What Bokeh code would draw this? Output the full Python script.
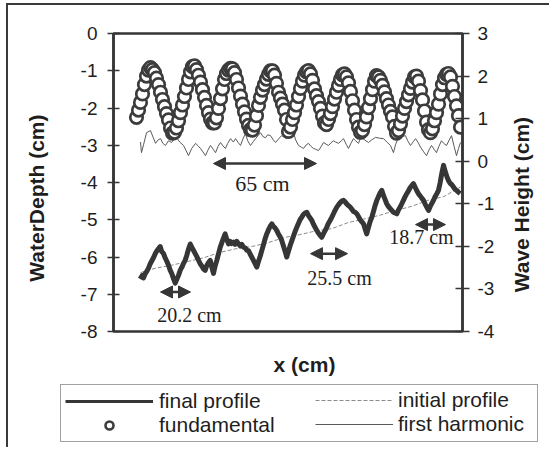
import math
from bokeh.plotting import figure
from bokeh.layouts import column
from bokeh.models import (Range1d, LinearAxis, FixedTicker, Legend, LegendItem,
                          Label, Arrow, NormalHead)
from bokeh.embed import file_html
from bokeh.resources import INLINE

# ---------------- data ----------------
# fundamental wave height (cm), right axis, sampled every 1.25 cm from x = 0
FUND_Y = [
    1.03, 1.20, 1.38, 1.58, 1.80, 2.00, 2.14, 2.20,
    2.15, 2.08, 1.95, 1.80, 1.62, 1.45, 1.28, 1.12, 0.97, 0.78, 0.66,
    0.68, 0.78, 0.95, 1.14, 1.32, 1.52, 1.72, 1.92, 2.10, 2.22, 2.24,
    2.15, 2.02, 1.86, 1.68, 1.50, 1.31, 1.14, 0.99, 0.90, 0.90,
    1.02, 1.24, 1.47, 1.70, 1.92, 2.06, 2.14, 2.18, 2.17,
    2.08, 1.92, 1.72, 1.53, 1.34, 1.16, 0.99, 0.84, 0.74, 0.73,
    0.85, 1.07, 1.31, 1.50, 1.67, 1.80, 1.93, 2.04, 2.12, 2.12,
    2.02, 1.83, 1.62, 1.48, 1.34, 1.20, 0.98, 0.70,
    0.80, 0.98, 1.14, 1.32, 1.52, 1.71, 1.88, 2.02, 2.10, 2.13,
    2.05, 1.90, 1.70, 1.54, 1.40, 1.24, 1.06, 0.90, 0.86,
    0.98, 1.12, 1.28, 1.46, 1.62, 1.78, 1.92, 2.03, 2.05,
    1.98, 1.84, 1.64, 1.42, 1.20, 0.98, 0.80, 0.68,
    0.72, 0.86, 1.04, 1.26, 1.47, 1.68, 1.88, 2.01,
    1.98, 1.90, 1.78, 1.63, 1.47, 1.32, 1.17, 1.04, 0.82, 0.66,
    0.72, 0.88, 1.06, 1.24, 1.40, 1.56, 1.71, 1.86, 1.98, 2.00,
    1.88, 1.66, 1.44, 1.18, 0.92, 0.74, 0.67,
    0.76, 0.95, 1.14, 1.34, 1.58, 1.80, 1.96, 2.04, 2.06,
    1.98, 1.76, 1.52, 1.30, 1.07, 0.80,
]
FUND_X = [round(i * 1.25, 2) for i in range(len(FUND_Y))]

# first harmonic (cm), right axis
HARM_X = [2.5, 3.1, 4.5, 6.25, 8.75, 10.5, 11.9, 13.5, 15, 16.5,
          18.1, 20, 21.9, 23.5, 25, 27, 29.4, 31, 32.5, 34.5,
          36.9, 38.5, 40, 41.5, 43.1, 44.5, 46.25, 48, 49.4, 51,
          52.5, 54, 55.6, 57, 58.75, 60.5, 61.9, 63.5, 65, 66.5,
          68.1, 69.5, 71.25, 73, 74.4, 76, 77.5, 79, 80.6, 82,
          83.75, 85.5, 86.9, 88.75, 90.6, 92, 93.75, 96, 98.1, 99.5,
          101.25, 103, 104.4, 106, 107.5, 109, 110.6, 112, 113.75, 115.5,
          116.9, 118.5, 120, 121.5, 123.1, 124.5, 126.25, 128, 129.4, 131,
          132.5, 134, 135.6, 137, 138.75, 140.6, 142.5, 145, 147, 149.4,
          152, 154.4, 156.5, 158.75, 160.6, 162, 163.75, 166, 168.1, 169.5,
          171.25, 173, 174.4, 176, 177.5, 179.5, 181.25, 183, 184.4, 186,
          187.5, 189, 190.6, 192, 193.75, 195.5, 196.9, 198.5, 200, 201.25,
          202.5]
HARM_Y = [0.45, 0.20, 0.40, 0.67, 0.72, 0.55, 0.42, 0.50, 0.53, 0.42,
          0.37, 0.48, 0.44, 0.52, 0.56, 0.45, 0.37, 0.25, 0.13, 0.30,
          0.42, 0.36, 0.30, 0.22, 0.13, 0.25, 0.37, 0.28, 0.20, 0.35,
          0.44, 0.36, 0.30, 0.42, 0.53, 0.45, 0.53, 0.44, 0.37, 0.52,
          0.65, 0.48, 0.37, 0.46, 0.53, 0.60, 0.67, 0.58, 0.55, 0.62,
          0.60, 0.50, 0.44, 0.52, 0.60, 0.57, 0.53, 0.60, 0.67, 0.50,
          0.37, 0.33, 0.30, 0.38, 0.42, 0.35, 0.30, 0.28, 0.25, 0.35,
          0.44, 0.40, 0.37, 0.43, 0.48, 0.45, 0.42, 0.48, 0.53, 0.40,
          0.30, 0.42, 0.53, 0.48, 0.42, 0.60, 0.50, 0.44, 0.50, 0.56,
          0.54, 0.53, 0.45, 0.37, 0.20, 0.40, 0.56, 0.58, 0.60, 0.48,
          0.37, 0.46, 0.53, 0.44, 0.33, 0.22, 0.13, 0.28, 0.37, 0.28,
          0.20, 0.35, 0.48, 0.42, 0.37, 0.50, 0.60, 0.35, 0.13, 0.30,
          0.44]

# final bed profile, water depth (cm), left axis
FINAL_X = [2.3, 3.5, 4.4, 5.4, 6.5, 7.5, 8.6, 9.6, 10.6, 11.7,
           12.7, 13.7, 14.8, 15.8, 16.8, 17.9, 19, 20, 21.1, 22.1,
           23.1, 24.2, 25.2, 26.2, 27.3, 28.3, 29.3, 30.4, 31.4, 32.4,
           33.6, 34.6, 35.6, 36.7, 37.7, 38.7, 39.8, 40.8, 41.8, 42.9,
           44, 45, 46.1, 47.1, 48.1, 49.1, 50.2, 51.2, 52.3, 53.3,
           54.3, 55.4, 56.4, 57.5, 58.5, 59.5, 60.6, 61.6, 62.7, 63.75,
           64.8, 65.8, 66.9, 68, 69, 70, 71, 72, 73.1, 74.1,
           75.2, 76.2, 77.3, 78.3, 79.3, 80.3, 81.4, 82.4, 83.5, 84.6,
           85.6, 86.6, 87.7, 88.7, 89.8, 90.8, 91.8, 92.9, 93.9, 95,
           96, 97.1, 98.1, 99.1, 100.2, 101.2, 102.2, 103.3, 104.3, 105.3,
           106.4, 107.4, 108.5, 109.6, 110.6, 111.6, 112.7, 113.7, 114.7, 115.8,
           116.8, 117.8, 118.9, 119.9, 121, 122.1, 123.1, 124.1, 125.2, 126.2,
           127.3, 128.3, 129.4, 130.4, 131.5, 132.5, 133.6, 134.6, 135.6, 136.7,
           137.7, 138.8, 139.8, 140.9, 141.9, 142.9, 143.9, 145, 146, 147.1,
           148.1, 149.1, 150.2, 151.2, 152.3, 153.3, 154.3, 155.4, 156.4, 157.4,
           158.5, 159.6, 160.6, 161.6, 162.7, 163.7, 164.8, 165.8, 166.8, 167.9,
           168.9, 170, 171, 172.1, 173.1, 174.1, 175.2, 176.25, 177.3, 178.3,
           179.4, 180.4, 181.4, 182.5, 183.5, 184.6, 185.6, 186.6, 187.7, 188.75,
           189.8, 190.8, 191.9, 192.9, 194, 195, 196, 197.1, 198.1, 199.1,
           200.2, 201.2, 202.3]
FINAL_Y = [-6.59, -6.50, -6.56, -6.45, -6.38, -6.30, -6.18, -6.10, -6.02, -5.91,
           -5.84, -5.78, -5.72, -5.86, -5.90, -6.02, -6.12, -6.22, -6.36, -6.45,
           -6.58, -6.70, -6.60, -6.50, -6.36, -6.28, -6.18, -6.09, -5.96, -5.80,
           -5.65, -5.74, -5.82, -5.91, -5.99, -6.08, -6.18, -6.24, -6.32, -6.36,
           -6.22, -6.15, -6.09, -6.28, -6.44, -6.25, -6.09, -5.92, -5.74, -5.62,
           -5.50, -5.38, -5.52, -5.65, -5.58, -5.64, -5.60, -5.66, -5.58, -5.65,
           -5.70, -5.66, -5.74, -5.76, -5.82, -5.83, -5.92, -6.00, -6.09, -6.18,
           -6.27, -6.12, -5.98, -5.83, -5.68, -5.52, -5.38, -5.28, -5.18, -5.11,
           -5.18, -5.22, -5.29, -5.38, -5.46, -5.56, -5.70, -5.85, -6.00, -5.84,
           -5.70, -5.56, -5.44, -5.32, -5.20, -5.10, -5.00, -4.93, -4.86, -4.82,
           -4.80, -4.88, -4.95, -5.02, -5.12, -5.20, -5.29, -5.36, -5.42, -5.47,
           -5.38, -5.30, -5.20, -5.10, -5.02, -4.93, -4.84, -4.75, -4.66, -4.60,
           -4.54, -4.50, -4.48, -4.52, -4.58, -4.62, -4.66, -4.72, -4.78, -4.80,
           -4.84, -4.92, -5.00, -5.06, -5.11, -5.25, -5.38, -5.20, -5.05, -4.93,
           -4.78, -4.62, -4.48, -4.38, -4.28, -4.21, -4.34, -4.46, -4.57, -4.64,
           -4.70, -4.75, -4.80, -4.82, -4.84, -4.74, -4.66, -4.57, -4.48, -4.38,
           -4.30, -4.22, -4.14, -4.08, -4.03, -4.12, -4.22, -4.30, -4.36, -4.42,
           -4.48, -4.58, -4.66, -4.75, -4.65, -4.56, -4.48, -4.38, -4.30, -4.21,
           -4.00, -3.76, -3.54, -3.70, -3.84, -3.95, -4.02, -4.06, -4.12, -4.18,
           -4.22, -4.26, -4.30]

# initial bed profile, water depth (cm), left axis
INIT_X = [2.5, 12, 22, 32, 42, 52, 62, 72, 82, 92, 102,
          112, 122, 132, 142, 152, 162, 172, 182, 192, 202.5]
INIT_Y = [-6.42, -6.30, -6.22, -6.12, -6.02, -5.88, -5.78, -5.72, -5.62, -5.48, -5.40,
          -5.30, -5.24, -5.08, -4.98, -4.88, -4.75, -4.64, -4.48, -4.38, -4.12]

LEFT_TICKS = [-8, -7, -6, -5, -4, -3, -2, -1, 0]
RIGHT_TICKS = [-4, -3, -2, -1, 0, 1, 2, 3]

# length annotations: (x_start, x_end, y_arrow, text, x_text, y_text)
SPANS = [
    (48.1, 112.5, -3.49, "65 cm", 78.75, -4.04),
    (15.0, 33.75, -6.94, "20.2 cm", 33.1, -7.57),
    (108.75, 131.9, -5.91, "25.5 cm", 126.9, -6.56),
    (174.4, 193.1, -5.13, "18.7 cm", 178.1, -5.45),
]

INK = "#363636"
TXT = "#1e1e1e"

p = figure(width=549, height=380, output_backend="svg", toolbar_location=None,
           x_range=Range1d(-14.375, 203.75), y_range=Range1d(-8, 0),
           x_axis_location=None, y_axis_location="left",
           min_border_left=113, min_border_right=87, min_border_top=33,
           min_border_bottom=49)
p.frame_align = False
p.grid.visible = False
p.outline_line_color = INK
p.outline_line_width = 2.5
p.background_fill_color = "white"
p.border_fill_alpha = 0

p.extra_y_ranges = {"wave": Range1d(-4, 3)}
left_axis = p.yaxis[0]
left_axis.ticker = FixedTicker(ticks=LEFT_TICKS)
left_axis.major_label_overrides = {t: str(t) for t in LEFT_TICKS}
right_axis = LinearAxis(y_range_name="wave", ticker=FixedTicker(ticks=RIGHT_TICKS),
                        major_label_overrides={t: str(t) for t in RIGHT_TICKS})
p.add_layout(right_axis, "right")

for ax, standoff, tin, tout in ((left_axis, 10, 6, 6), (right_axis, 8, 7, 7)):
    ax.axis_line_color = INK
    ax.axis_line_width = 2.5
    ax.major_tick_line_color = INK
    ax.major_tick_line_width = 1.5
    ax.major_tick_in = tin
    ax.major_tick_out = tout
    ax.minor_tick_line_color = None
    ax.major_label_text_font = "Liberation Sans"
    ax.major_label_text_font_size = "19px"
    ax.major_label_text_color = TXT
    ax.major_label_standoff = standoff


def title_axis(text, pos, orient, standoff, size, range_name=None):
    kw = {"y_range_name": range_name} if range_name else {}
    ax = LinearAxis(ticker=FixedTicker(ticks=[pos]), major_label_overrides={pos: text},
                    major_label_orientation=orient, major_label_standoff=standoff,
                    major_label_text_font="Liberation Sans",
                    major_label_text_font_style="bold",
                    major_label_text_font_size=size, major_label_text_color=TXT,
                    axis_line_color=None, major_tick_line_color=None,
                    minor_tick_line_color=None, major_tick_in=0, major_tick_out=0,
                    **kw)
    return ax


p.add_layout(title_axis("WaterDepth (cm)", -4.42, "vertical", 29, "21px"), "left")
p.add_layout(title_axis("Wave Height (cm)", -3.08, math.pi / 2, 24, "21px", "wave"), "right")
p.add_layout(title_axis("x (cm)", 105, "horizontal", 21, "21px"), "below")

# glyphs
p.line(HARM_X, HARM_Y, y_range_name="wave", line_color="#5a5a5a", line_width=1)
p.line(INIT_X, INIT_Y, line_color="#8a8a8a", line_width=1, line_dash="4 2")
p.line(FINAL_X, FINAL_Y, line_color=INK, line_width=5, line_join="round")
p.scatter(FUND_X, FUND_Y, y_range_name="wave", marker="circle", size=12.5,
          fill_color="white", line_color="#3c3c3c", line_width=2.7)

# annotations
for x0, x1, ya, txt, xt, yt in SPANS:
    p.add_layout(Arrow(
        start=NormalHead(size=12, fill_color=INK, line_color=INK),
        end=NormalHead(size=12, fill_color=INK, line_color=INK),
        x_start=x0, y_start=ya, x_end=x1, y_end=ya,
        line_color=INK, line_width=2.5))
    p.add_layout(Label(x=xt, y=yt, text=txt, text_font="Liberation Serif",
                       text_font_size="22px" if txt == "65 cm" else "20px",
                       text_color=TXT, text_align="center", text_baseline="middle"))

# ---------------- legend strip ----------------
# the legend's own plot shows a window far away from the data, so its
# stand-in renderers carry the same data but stay out of sight
q = figure(width=549, height=67, output_backend="svg", toolbar_location=None,
           x_range=Range1d(1000, 1001), y_range=Range1d(1000, 1001),
           x_axis_location=None, y_axis_location=None, min_border=0)
q.frame_align = False
q.grid.visible = False
q.outline_line_color = None
q.background_fill_alpha = 0
q.border_fill_alpha = 0

r_final = q.line(FINAL_X, FINAL_Y, line_color=INK, line_width=3)
r_fund = q.scatter(FUND_X, FUND_Y, marker="circle", size=12, fill_color="white",
                   line_color="#3c3c3c", line_width=2.6)
r_init = q.line(INIT_X, INIT_Y, line_color="#8a8a8a", line_width=1, line_dash="4 2")
r_harm = q.line(HARM_X, HARM_Y, line_color="#5a5a5a", line_width=1)


def style_legend(lg):
    lg.label_text_font = "Liberation Sans"
    lg.label_text_font_size = "21px"
    lg.label_text_color = TXT
    lg.glyph_height = 20
    lg.label_height = 24
    lg.padding = 4
    lg.spacing = 0
    lg.margin = 0


leg_a = Legend(items=[LegendItem(label="final profile", renderers=[r_final]),
                      LegendItem(label="fundamental", renderers=[r_fund])],
               location=(60, 5))
style_legend(leg_a)
leg_a.glyph_width = 88
leg_a.label_standoff = 6
leg_a.label_width = 374
leg_a.border_line_color = "#444444"
leg_a.border_line_width = 1.5
leg_a.background_fill_color = "white"

leg_b = Legend(items=[LegendItem(label="initial profile", renderers=[r_init]),
                      LegendItem(label="first harmonic", renderers=[r_harm])],
               location=(315, 11))
style_legend(leg_b)
leg_b.glyph_width = 78
leg_b.label_standoff = 5
leg_b.border_line_color = None
leg_b.background_fill_alpha = 0

q.add_layout(leg_a, "center")
q.add_layout(leg_b, "center")

page = column(p, q, spacing=0, styles={
    "background": ("linear-gradient(#3a3a3a,#3a3a3a) 6px 3px / 2px 460px no-repeat, "
                   "linear-gradient(#3a3a3a,#3a3a3a) 6px 3px / 560px 2px no-repeat, "
                   "#ffffff")})

open("out.html", "w").write(file_html(page, INLINE))
